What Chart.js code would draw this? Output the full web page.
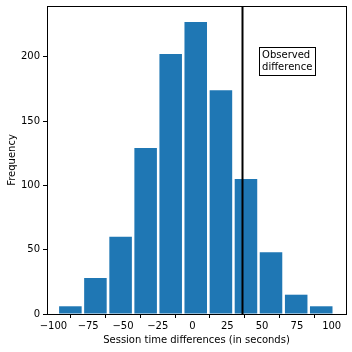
<!DOCTYPE html>
<html>
<head>
<meta charset="utf-8">
<script src="https://cdn.jsdelivr.net/npm/chart.js@4"></script>
<style>
  html, body { margin: 0; padding: 0; background: #fff; }
  #wrap { width: 352px; height: 352px; }
</style>
</head>
<body>
<div id="wrap"><canvas id="chart"></canvas></div>
<script>
// histogram of permutation differences
const binCenters = [-87.8, -69.8, -51.7, -33.7, -15.7, 2.3, 20.4, 38.4, 56.4, 74.5, 92.5];
const counts = [6, 28, 60, 129, 202, 227, 174, 105, 48, 15, 6];
const xTicks = [-100, -75, -50, -25, 0, 25, 50, 75, 100];
const yTicks = [0, 50, 100, 150, 200];
const observedDiff = 35.8;
const noteText = ['Observed', 'difference'];
const notePos = [50, 190];

const FONT = "'DejaVu Sans', sans-serif";
Chart.defaults.font.family = FONT;
Chart.defaults.font.size = 10;
Chart.defaults.color = '#000';

const minus = v => String(v).replace('-', '\u2212');

// axvline + boxed text + frame
const extras = {
  id: 'extras',
  afterDatasetsDraw(chart) {
    const { ctx, chartArea: a, scales: { x, y } } = chart;
    ctx.save();
    // observed difference line
    const lx = Math.round(x.getPixelForValue(observedDiff)) + 0.5;
    ctx.strokeStyle = '#000';
    ctx.lineWidth = 2;
    ctx.beginPath();
    ctx.moveTo(lx, a.top);
    ctx.lineTo(lx, a.bottom);
    ctx.stroke();

    // text box
    ctx.font = '10px ' + FONT;
    const tx = x.getPixelForValue(notePos[0]);
    const ty = y.getPixelForValue(notePos[1]);
    const lh = 11.6, pad = 3;
    const w = Math.max(...noteText.map(t => ctx.measureText(t).width));
    const top = ty - lh * (noteText.length - 1) - 8 - pad;
    const bottom = ty + 2 + pad;
    ctx.fillStyle = '#fff';
    ctx.fillRect(tx - pad, top, w + pad * 2, bottom - top);
    ctx.lineWidth = 1;
    ctx.strokeRect(Math.round(tx - pad) + 0.5, Math.round(top) + 0.5, Math.round(w + pad * 2), Math.round(bottom - top));
    ctx.fillStyle = '#000';
    ctx.textBaseline = 'alphabetic';
    noteText.forEach((t, i) => {
      ctx.fillText(t, tx, ty - lh * (noteText.length - 1 - i));
    });

    // frame (all four spines)
    ctx.strokeStyle = '#000';
    ctx.lineWidth = 1;
    ctx.strokeRect(Math.round(a.left) + 0.5, Math.round(a.top) + 0.5, Math.round(a.right - a.left), Math.round(a.bottom - a.top));
    ctx.restore();
  }
};

new Chart(document.getElementById('chart'), {
  type: 'bar',
  data: {
    datasets: [{
      data: binCenters.map((c, i) => ({ x: c, y: counts[i] })),
      backgroundColor: '#1f77b4',
      borderWidth: 0,
      barPercentage: 0.9,
      categoryPercentage: 1.0
    }]
  },
  plugins: [extras],
  options: {
    responsive: true, maintainAspectRatio: false,
    animation: false,
    layout: { padding: { left: 0, right: 6, top: 6, bottom: 0 } },
    plugins: { legend: { display: false }, tooltip: { enabled: false } },
    scales: {
      x: {
        type: 'linear', min: -104.6, max: 110.3, offset: false,
        afterFit: s => { s.height = 38; s.paddingLeft = 0; s.paddingRight = 0; },
        afterBuildTicks: s => { s.ticks = xTicks.map(v => ({ value: v })); },
        grid: { drawOnChartArea: false, drawTicks: true, tickLength: 4, tickColor: '#000' },
        border: { display: true, color: '#000', width: 1 },
        ticks: { padding: 2, maxRotation: 0, autoSkip: false, callback: v => minus(v) },
        title: { display: true, text: 'Session time differences (in seconds)', padding: { top: 0, bottom: 6 } }
      },
      y: {
        min: 0, max: 239.4,
        afterFit: s => { s.width = 47; s.paddingTop = 0; s.paddingBottom = 0; },
        afterBuildTicks: s => { s.ticks = yTicks.map(v => ({ value: v })); },
        grid: { drawOnChartArea: false, drawTicks: true, tickLength: 4, tickColor: '#000' },
        border: { display: true, color: '#000', width: 1 },
        ticks: { padding: 3, callback: v => minus(v) },
        title: { display: true, text: 'Frequency', padding: { top: 6, bottom: 0 } }
      }
    }
  }
});
</script>
</body>
</html>
